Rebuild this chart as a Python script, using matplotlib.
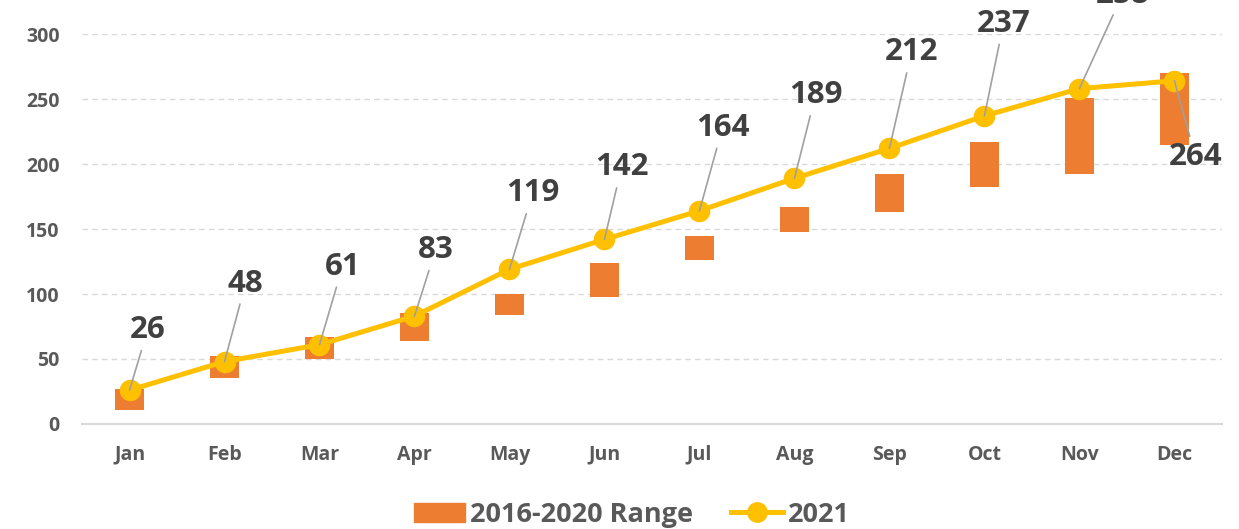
import numpy as np
import matplotlib.pyplot as plt
from matplotlib.patches import Patch
from matplotlib.lines import Line2D

# data
months = ['Jan', 'Feb', 'Mar', 'Apr', 'May', 'Jun',
          'Jul', 'Aug', 'Sep', 'Oct', 'Nov', 'Dec']
range_low = [11, 35, 50, 64, 84, 98, 126, 148, 163, 182, 192, 215]
range_high = [27, 52, 67, 85, 100, 124, 145, 167, 192, 217, 251, 270]
values_2021 = [26, 48, 61, 83, 119, 142, 164, 189, 212, 237, 258, 264]

# label offsets in pixels (dx, dy) from each point
label_offsets = [(18, 60), (21, 78), (23, 78), (21, 66), (23, 76), (17, 72),
                 (23, 83), (21, 83), (22, 96), (19, 92), (43, 94), (21, -76)]

ORANGE = '#ED7D31'
YELLOW = '#FFC000'
TXT = '#404040'
TICK = '#595959'

plt.rcParams['font.family'] = ['Open Sans', 'DejaVu Sans']

fig = plt.figure(figsize=(12.39, 5.29), dpi=100)
ax = fig.add_axes([0.0662, 0.1985, 0.920, 0.7372])

x = np.arange(len(months))
low = np.array(range_low)
high = np.array(range_high)
ax.bar(x, high - low, bottom=low, width=0.31, color=ORANGE, zorder=2)
ax.plot(x, values_2021, color=YELLOW, lw=3.6, marker='o', markersize=14.5,
        zorder=3)

for xi, v, (dx, dy) in zip(x, values_2021, label_offsets):
    ax.annotate(str(v), xy=(xi, v), xytext=(dx, dy), textcoords='offset pixels',
                ha='center', va='center', fontsize=22.5, fontweight='bold',
                color=TXT, annotation_clip=False, zorder=4,
                arrowprops=dict(arrowstyle='-', color='#A0A0A0', lw=1.2,
                                shrinkA=2, shrinkB=0))

ax.set_xlim(-0.5, 11.5)
ax.set_ylim(0, 300)
ax.set_yticks(range(0, 301, 50))
ax.set_xticks(x)
ax.set_xticklabels(months)
ax.tick_params(axis='both', length=0, labelsize=14, labelcolor=TICK)
ax.tick_params(axis='y', pad=16)
ax.tick_params(axis='x', pad=15)
for lbl in ax.get_xticklabels() + ax.get_yticklabels():
    lbl.set_fontweight('bold')

ax.grid(axis='y', color='#D9D9D9', linestyle=(0, (4, 3)), lw=1, zorder=0)
for s in ['top', 'right', 'left']:
    ax.spines[s].set_visible(False)
ax.spines['bottom'].set_color('#D9D9D9')
ax.spines['bottom'].set_linewidth(1.5)

handles = [Patch(color=ORANGE, label='2016-2020 Range'),
           Line2D([0], [0], color=YELLOW, lw=3.6, marker='o', markersize=14,
                  label='2021')]
leg = fig.legend(handles=handles, loc='center', bbox_to_anchor=(0.51, 0.027),
                 ncol=2, frameon=False, handlelength=1.9, handleheight=0.7,
                 columnspacing=1.4, handletextpad=0.2,
                 prop={'size': 19.5, 'weight': 'bold'})
for t in leg.get_texts():
    t.set_color(TICK)

fig.savefig('out.png', dpi=100)
